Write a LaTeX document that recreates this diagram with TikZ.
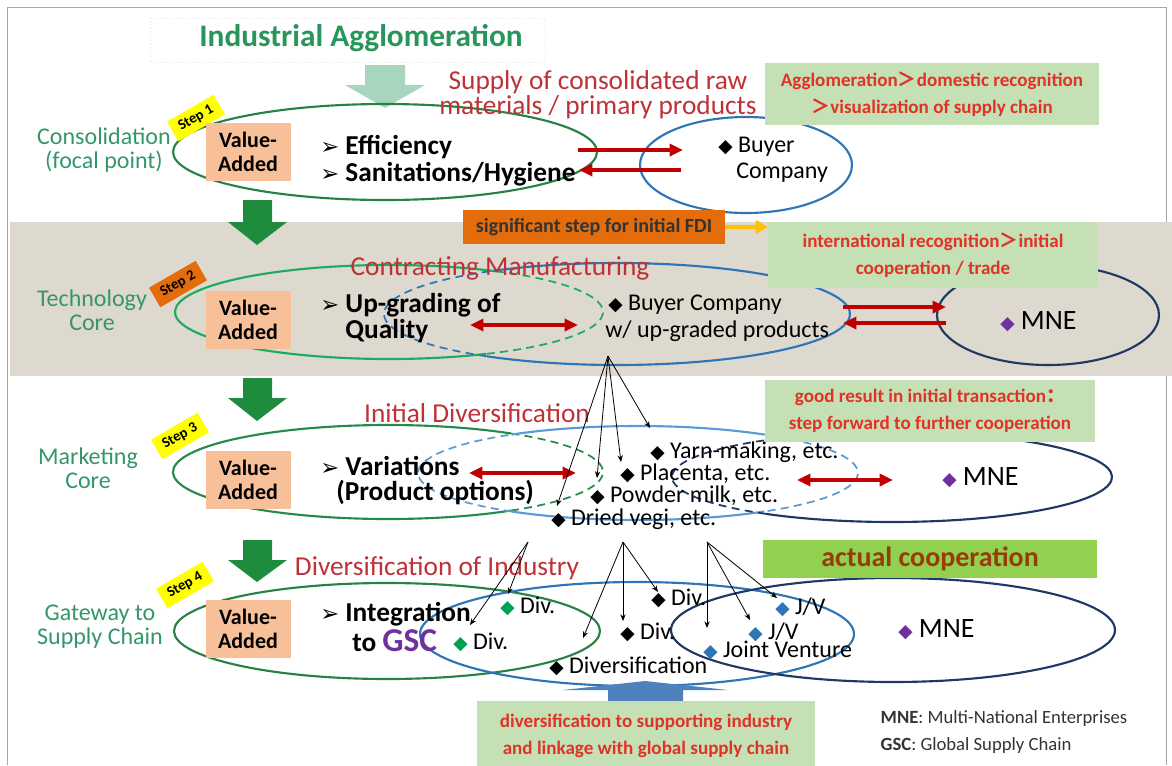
\documentclass[tikz,border=0pt]{standalone}
\usepackage{fontspec}
\setmainfont{Carlito}
\newfontfamily\symfont{DejaVu Sans}
\newfontfamily\cjk{Noto Sans CJK SC}
\usetikzlibrary{arrows.meta}
\definecolor{rowgreen}{RGB}{52,150,105}
\definecolor{titlegreen}{RGB}{40,150,90}
\definecolor{titlered}{RGB}{190,50,55}
\definecolor{arrowred}{RGB}{192,0,0}
\definecolor{ovalgreen}{RGB}{40,130,70}
\definecolor{ovalgreenb}{RGB}{30,170,95}
\definecolor{ovalblue}{RGB}{46,117,182}
\definecolor{ovalbluel}{RGB}{91,155,213}
\definecolor{ovalnavy}{RGB}{31,56,100}
\definecolor{notegreen}{RGB}{197,224,180}
\definecolor{notered}{RGB}{225,50,40}
\definecolor{bandgray}{RGB}{222,217,206}
\definecolor{peach}{RGB}{247,192,152}
\definecolor{fdiorange}{RGB}{228,108,10}
\definecolor{fdiyellow}{RGB}{255,192,0}
\definecolor{stepyellow}{RGB}{255,255,0}
\definecolor{mnepurple}{RGB}{112,48,160}
\definecolor{jvblue}{RGB}{46,117,182}
\definecolor{divgreen}{RGB}{0,160,80}
\definecolor{coopgreen}{RGB}{146,208,80}
\definecolor{coopbrown}{RGB}{150,60,10}
\definecolor{downgreen}{RGB}{30,140,60}
\definecolor{palegreen}{RGB}{168,213,190}
\definecolor{upblue}{RGB}{79,129,189}
\newcommand\gem[1][black]{{\color{#1}\symfont\fontsize{14}{14}\selectfont ◆}}
\newcommand\pointer{{\symfont\fontsize{17}{17}\selectfont ➢}}
\newcommand\gt{{\cjk ＞}}
\begin{document}
\begin{tikzpicture}[x=0.75pt,y=-0.75pt,
  rowlabel/.style={text=rowgreen,align=center,font=\fontsize{18}{18}\selectfont},
  redtitle/.style={text=titlered,align=center,font=\fontsize{20.5}{18.5}\selectfont},
  vabox/.style={fill=peach,minimum width=63.75pt,minimum height=44pt,align=center,
    font=\bfseries\fontsize{16.5}{18}\selectfont},
  steptag/.style={fill=stepyellow,rotate=30,inner xsep=6pt,inner ysep=4pt,
    font=\bfseries\fontsize{11}{12}\selectfont},
  note/.style={fill=notegreen,text=notered,align=center,
    font=\bfseries\fontsize{14.3}{20}\selectfont},
  point/.style={anchor=west,align=left,inner sep=0pt,font=\bfseries\fontsize{20.5}{20}\selectfont},
  item/.style={anchor=west,inner sep=0pt,font=\fontsize{18}{18}\selectfont},
  mne/.style={anchor=west,inner sep=0pt,font=\fontsize{21}{21}\selectfont},
  oval/.style={line width=1.6pt},
  ovaldash/.style={line width=1.3pt,dash pattern=on 6pt off 4pt},
  redarrow/.style={arrowred,line width=2.6pt,-{Triangle[length=10pt,width=9pt]}},
  redboth/.style={arrowred,line width=2.6pt,{Triangle[length=10pt,width=9pt]}-{Triangle[length=10pt,width=9pt]}},
  fan/.style={line width=0.6pt,-{Stealth[length=5pt,width=4pt]}},
]
\useasboundingbox (0,0) rectangle (1172,765);
\draw[gray!70,line width=0.6pt] (7,765) -- (7,7) -- (1166,7) -- (1166,765);
\fill[bandgray] (10,222) rectangle (1172,376);
\draw[gray!20,dotted] (150,18) rectangle (545,62);
\node[text=titlegreen,font=\bfseries\fontsize{23.5}{26}\selectfont] (agglo) at (361,38) {Industrial Agglomeration};
\fill[palegreen] (385,108) -- (345,85) -- (365,85) -- (365,65) -- (405,65) -- (405,85) -- (425,85) -- cycle;
\fill[downgreen] (257,245) -- (228,222) -- (243,222) -- (243,200) -- (272,200) -- (272,222) -- (287,222) -- cycle;
\fill[downgreen] (257,421) -- (228,398) -- (243,398) -- (243,378) -- (272,378) -- (272,398) -- (287,398) -- cycle;
\fill[downgreen] (257,582) -- (228,560) -- (243,560) -- (243,540) -- (272,540) -- (272,560) -- (287,560) -- cycle;

% ovals
\coordinate (g1) at (385,152);
\coordinate (b1) at (746,165);
\draw[oval,ovalgreen] (g1) ellipse [x radius=212,y radius=48];
\draw[oval,ovalblue] (b1) ellipse [x radius=106,y radius=48];
\coordinate (g2) at (389,312);
\coordinate (b2) at (617,314);
\coordinate (n2) at (1048,315);
\draw[oval,ovalgreenb] (g2) ++(63:214 and 47) arc[start angle=63,end angle=300,x radius=214,y radius=47];
\draw[ovaldash,ovalgreenb] (g2) ++(-60:214 and 47) arc[start angle=-60,end angle=63,x radius=214,y radius=47];
\draw[oval,ovalblue] (b2) ++(-122:233 and 51) arc[start angle=-122,end angle=124,x radius=233,y radius=51];
\draw[ovaldash,ovalblue] (b2) ++(124:233 and 51) arc[start angle=124,end angle=238,x radius=233,y radius=51];
\draw[oval,ovalnavy] (n2) ellipse [x radius=111,y radius=50];
\coordinate (g3) at (388,472);
\coordinate (b3) at (638,473);
\coordinate (n3) at (892,477);
\draw[oval,ovalgreen!80!ovalgreenb] (g3) ++(55:215 and 47) arc[start angle=55,end angle=305,x radius=215,y radius=47];
\draw[ovaldash,ovalgreen!80!ovalgreenb] (g3) ++(-55:215 and 47) arc[start angle=-55,end angle=55,x radius=215,y radius=47];
\draw[oval,ovalbluel] (b3) ++(55:220 and 47) arc[start angle=55,end angle=125,x radius=220,y radius=47];
\draw[oval,ovalbluel] (b3) ++(235:220 and 47) arc[start angle=235,end angle=305,x radius=220,y radius=47];
\draw[ovaldash,ovalbluel] (b3) ++(125:220 and 47) arc[start angle=125,end angle=235,x radius=220,y radius=47];
\draw[ovaldash,ovalbluel] (b3) ++(-55:220 and 47) arc[start angle=-55,end angle=55,x radius=220,y radius=47];
\draw[oval,ovalnavy] (n3) ++(-125:220 and 45) arc[start angle=-125,end angle=125,x radius=220,y radius=45];
\draw[ovaldash,ovalnavy] (n3) ++(125:220 and 45) arc[start angle=125,end angle=235,x radius=220,y radius=45];
\coordinate (g4) at (387,631);
\coordinate (b4) at (637,634);
\coordinate (n4) at (893,630);
\draw[oval,ovalgreen] (g4) ellipse [x radius=213,y radius=48];
\draw[oval,ovalblue] (b4) ellipse [x radius=217,y radius=52];
\draw[oval,ovalnavy] (n4) ellipse [x radius=222,y radius=52];

% row labels and step tags
\node[rowlabel] (cons) at (104,150) {Consolidation\\(focal point)};
\node[rowlabel] (tech) at (92,310) {Technology\\Core};
\node[rowlabel] (mark) at (88,468) {Marketing\\Core};
\node[rowlabel] (gate) at (100,627) {Gateway to\\Supply Chain};
\node[steptag] (step1) at (196,118) {Step 1};
\node[steptag,fill=fdiorange] (step2) at (178,284) {Step 2};
\node[steptag] (step3) at (180,436) {Step 3};
\node[steptag] (step4) at (185,585) {Step 4};
\node[vabox] (va1) at (248,152) {Value-\\Added};
\node[vabox] (va2) at (248,320) {Value-\\Added};
\node[vabox] (va3) at (248,480) {Value-\\Added};
\node[vabox] (va4) at (248,629) {Value-\\Added};

% step 1
\node[point] (eff) at (320,161) {\pointer\ Efficiency\\\pointer\ Sanitations/Hygiene};
\node[redtitle] (supply) at (598,95) {Supply of consolidated raw\\materials / primary products};
\node[item] (buyer1a) at (718,147) {\gem\ Buyer};
\node[item] (buyer1b) at (736,173) {Company};
\coordinate (s1a) at (578,150);
\coordinate (s1b) at (683,150);
\coordinate (s1c) at (681,170);
\coordinate (s1d) at (579,170);
\draw[redarrow] (s1a) -- (s1b);
\draw[redarrow] (s1c) -- (s1d);
\node[note,minimum width=251pt,minimum height=46.5pt] (dom) at (932,94) {Agglomeration\gt domestic recognition\\\gt visualization of supply chain};

% step 2
\node[point] (upg) at (320,318) {\pointer\ Up-grading of\\\phantom{\pointer\ }Quality};
\node[redtitle] (contract) at (500,268) {Contracting Manufacturing};
\node[item] (buyer2a) at (608,305) {\gem\ Buyer Company};
\node[item] (buyer2b) at (605,331) {w/ up-graded products};
\node[mne] (mne2) at (1000,322) {\gem[mnepurple]\ MNE};
\coordinate (s2a) at (470,325);
\coordinate (s2b) at (578,325);
\draw[redboth] (s2a) -- (s2b);
\coordinate (s2c) at (843,307);
\coordinate (s2d) at (946,307);
\coordinate (s2e) at (946,323);
\coordinate (s2f) at (843,323);
\draw[redarrow] (s2c) -- (s2d);
\draw[redarrow] (s2e) -- (s2f);
\node[fill=fdiorange,minimum width=196.5pt,minimum height=26pt,font=\bfseries\fontsize{15}{16}\selectfont,text=black!80] (fdi) at (594,227) {significant step for initial FDI};
\node[note,minimum width=247.5pt,minimum height=49.5pt] (intl) at (933,255) {international recognition\gt initial\\cooperation / trade};
\draw[fdiyellow,line width=2.6pt,-{Triangle[length=9pt,width=10pt]}] (fdi.east) -- (fdi.east -| intl.west);

% step 3
\node[point] (var) at (320,466) {\pointer\ Variations};
\node[point] (opt) at (336,492) {(Product options)};
\node[redtitle] (initdiv) at (477,413) {Initial Diversification};
\node[item] (yarn) at (650,452) {\gem\ Yarn-making, etc.};
\node[item] (plac) at (620,474) {\gem\ Placenta, etc.};
\node[item] (powder) at (590,496) {\gem\ Powder milk, etc.};
\node[item] (dried) at (551,519) {\gem\ Dried vegi, etc.};
\node[mne] (mne3) at (942,478) {\gem[mnepurple]\ MNE};
\coordinate (s3a) at (469,473);
\coordinate (s3b) at (576,473);
\coordinate (s3c) at (797,480);
\coordinate (s3d) at (893,480);
\draw[redboth] (s3a) -- (s3b);
\draw[redboth] (s3c) -- (s3d);
\node[note,minimum width=247.5pt,minimum height=47pt] (good) at (930,411) {good result in initial transaction{\cjk ：}\\step forward to further cooperation};
\coordinate (fan2) at (608,356);
\coordinate (tipdried) at (557,506);
\coordinate (tippowder) at (597,478);
\coordinate (tipplac) at (621,462);
\coordinate (tipyarn) at (650,428);
\foreach \t in {tipdried,tippowder,tipplac,tipyarn} \draw[fan] (fan2) -- (\t);

% step 4
\node[point] (integ) at (320,614) {\pointer\ Integration};
\node[point] (gsc) at (352,641) {to \textcolor{mnepurple}{\fontsize{25}{25}\selectfont GSC}};
\node[redtitle] (divind) at (437,568) {Diversification of Industry};
\node[item] (gdiv1) at (500,606) {\gem[divgreen]\ Div.};
\node[item] (gdiv2) at (453,642) {\gem[divgreen]\ Div.};
\node[item] (div1) at (651,598) {\gem\ Div.};
\node[item] (div2) at (620,632) {\gem\ Div.};
\node[item] (divers) at (549,666) {\gem\ Diversification};
\node[item] (jv1) at (775,607) {\gem[jvblue]\ J/V};
\node[item] (jv2) at (748,632) {\gem[jvblue]\ J/V};
\node[item] (jv3) at (703,650) {\gem[jvblue]\ Joint Venture};
\node[mne] (mne4) at (898,630) {\gem[mnepurple]\ MNE};
\node[fill=coopgreen,text=coopbrown,minimum width=251pt,minimum height=28.5pt,font=\bfseries\fontsize{21}{22}\selectfont] (coop) at (930,559) {actual cooperation};
\coordinate (fan3a) at (528,542);
\coordinate (fan3b) at (623,542);
\coordinate (fan3c) at (707,542);
\coordinate (tipa1) at (470,625);
\coordinate (tipa2) at (508,594);
\coordinate (tipb1) at (583,638);
\coordinate (tipb2) at (623,621);
\coordinate (tipb3) at (658,592);
\coordinate (tipc1) at (707,628);
\coordinate (tipc2) at (750,620);
\coordinate (tipc3) at (777,598);
\foreach \t in {tipa1,tipa2} \draw[fan] (fan3a) -- (\t);
\foreach \t in {tipb1,tipb2,tipb3} \draw[fan] (fan3b) -- (\t);
\foreach \t in {tipc1,tipc2,tipc3} \draw[fan] (fan3c) -- (\t);
\fill[upblue] (563,690) -- (645,681) -- (728,690) -- (683,690) -- (683,701) -- (608,701) -- (608,690) -- cycle;
\node[note,minimum width=253.5pt,minimum height=52pt,anchor=north] (link) at (646,701) {diversification to supporting industry\\and linkage with global supply chain};
\node[anchor=west,align=left,text=black!80,font=\fontsize{14}{20}\selectfont] (legend) at (876,732) {\textbf{MNE}: Multi-National Enterprises\\\textbf{GSC}: Global Supply Chain};
\end{tikzpicture}
\end{document}
